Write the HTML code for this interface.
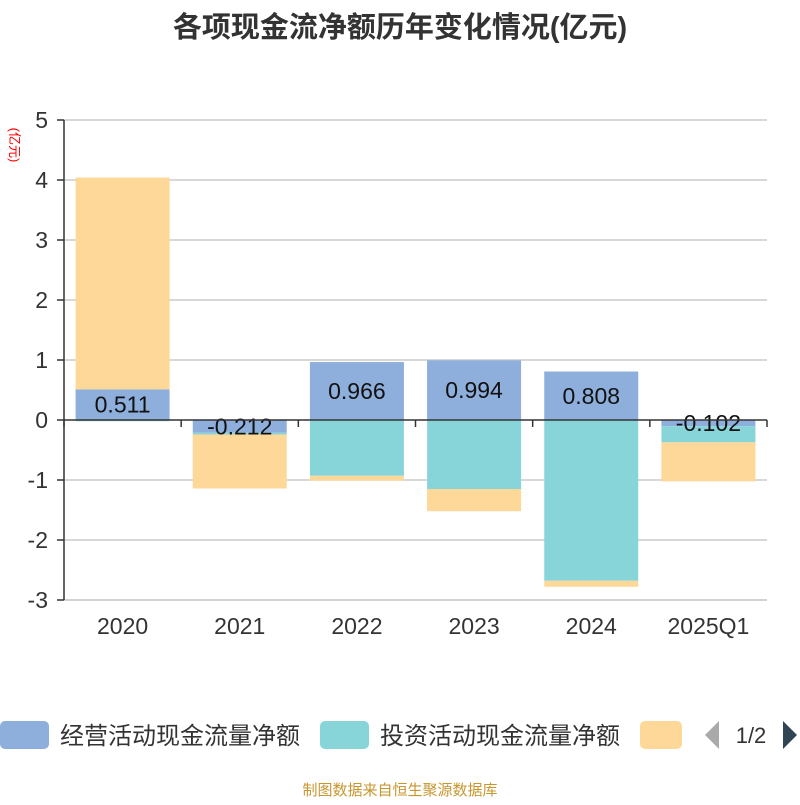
<!DOCTYPE html>
<html><head><meta charset="utf-8"><style>
body{margin:0;background:#fff;}
svg text{font-family:"Liberation Sans","Noto Sans CJK SC",sans-serif;}
</style></head><body>
<svg id="c" width="800" height="800" xmlns="http://www.w3.org/2000/svg">
<text x="400" y="37" text-anchor="middle" font-size="29" font-weight="bold" fill="#333">各项现金流净额历年变化情况(亿元)</text>
<text transform="translate(10,145) rotate(90)" text-anchor="middle" font-size="13" fill="#f00">(亿元)</text>
<g id="grid"></g><g id="bars"></g><g id="axes"></g>
<g>
<rect x="0" y="721" width="49" height="28" rx="5" fill="#8eaedb"/>
<text x="60" y="744" font-size="24" fill="#333">经营活动现金流量净额</text>
<rect x="320" y="721" width="49" height="28" rx="5" fill="#88d5d9"/>
<text x="380" y="744" font-size="24" fill="#333">投资活动现金流量净额</text>
<rect x="640" y="721" width="42" height="28" rx="5" fill="#fdd898"/>
<polygon points="719,721 719,749 705,735" fill="#aaa"/>
<text x="751" y="743" text-anchor="middle" font-size="22" fill="#333">1/2</text>
<polygon points="783,721 783,749 797,735" fill="#2f4554"/>
</g>
<text x="400" y="795" text-anchor="middle" font-size="15" fill="#c8962e">制图数据来自恒生聚源数据库</text>
</svg>
<script>
const categories=["2020","2021","2022","2023","2024","2025Q1"];
const operating=[0.511,-0.212,0.966,0.994,0.808,-0.102];
const investing=[-0.02,-0.03,-0.93,-1.15,-2.68,-0.27];
const financing=[3.53,-0.9,-0.08,-0.37,-0.1,-0.65];
const yTicks=[5,4,3,2,1,0,-1,-2,-3];
const NS="http://www.w3.org/2000/svg";
const x0=64,x1=767,yMin=-3,yMax=5,yTop=120,yBot=600;
const y=v=>yBot-(v-yMin)/(yMax-yMin)*(yBot-yTop);
const bw=(x1-x0)/categories.length;
function mk(t,a,p){const e=document.createElementNS(NS,t);for(const k in a)e.setAttribute(k,a[k]);p.appendChild(e);return e;}
const G=document.getElementById('grid'),B=document.getElementById('bars'),A=document.getElementById('axes');
yTicks.forEach(v=>{
 if(v!==0){const l=mk('line',{x1:x0,x2:x1,y1:y(v),y2:y(v),stroke:'#ccc','stroke-width':1.5},G);
 
 }
 const tk=mk('line',{x1:57,x2:x0,y1:y(v),y2:y(v),stroke:'#333','stroke-width':1.5},A);
 
 
 const t=mk('text',{x:48,y:y(v)+8,'text-anchor':'end','font-size':23,fill:'#333'},A);t.textContent=v;
 
 
});
const series=[[operating,'#8eaedb','operating'],[investing,'#88d5d9','investing'],[financing,'#fdd898','financing']];
categories.forEach((c,i)=>{
 const cx=x0+bw*(i+0.5);let pos=0,neg=0;
 series.forEach(([d,col,n])=>{
  const v=d[i];let a,b;
  if(v>=0){a=pos;b=pos+v;pos=b;}else{a=neg;b=neg+v;neg=b;}
  const r=mk('rect',{x:cx-47,width:94,y:Math.min(y(a),y(b)),height:Math.abs(y(a)-y(b)),fill:col},B);
  
  
 });
 const t=mk('text',{x:cx,y:(y(0)+y(operating[i]))/2+8,'text-anchor':'middle','font-size':23,fill:'#111'},B);
 t.textContent=operating[i];
 
 
 const xl=mk('text',{x:cx,y:634,'text-anchor':'middle','font-size':23,fill:'#333'},A);xl.textContent=c;
 
 
});
for(let i=0;i<=categories.length;i++){const xx=x0+bw*i;
 const tk=mk('line',{x1:xx,x2:xx,y1:y(0),y2:y(0)+7,stroke:'#333','stroke-width':1.5},A);
 
 }
const ya=mk('line',{x1:x0,x2:x0,y1:yTop,y2:yBot,stroke:'#333','stroke-width':1.5},A);


const xa=mk('line',{x1:x0,x2:x1,y1:y(0),y2:y(0),stroke:'#333','stroke-width':1.5},A);


const bl=mk('line',{x1:x0,x2:x1,y1:yBot,y2:yBot,stroke:'#ccc','stroke-width':1.5},G);


</script>
</body></html>
